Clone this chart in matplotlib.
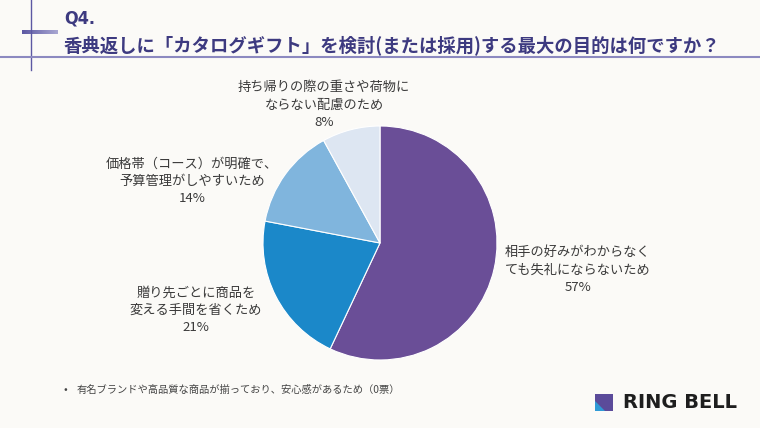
import matplotlib
matplotlib.use("Agg")
import matplotlib.pyplot as plt
import numpy as np
from matplotlib.patches import Polygon, Rectangle
from matplotlib.colors import LinearSegmentedColormap

plt.rcParams['font.family'] = ['Noto Sans CJK JP', 'DejaVu Sans']

# ---- data ----
categories = [
    "相手の好みがわからなく\nても失礼にならないため",
    "贈り先ごとに商品を\n変える手間を省くため",
    "価格帯（コース）が明確で、\n予算管理がしやすいため",
    "持ち帰りの際の重さや荷物に\nならない配慮のため",
]
values = [57, 21, 14, 8]
colors = ["#6A4E97", "#1B88C9", "#80B5DD", "#DDE6F2"]
title_q = "Q4."
title_main = "香典返しに「カタログギフト」を検討(または採用)する最大の目的は何ですか？"
footnote = "有名ブランドや高品質な商品が揃っており、安心感があるため（0票）"
brand = "RING BELL"

W, H = 760, 428
BG = "#FBFAF7"
fig = plt.figure(figsize=(W / 100, H / 100), dpi=100, facecolor=BG)

# ---- pie ----
cx, cy, r = 380, 243, 117
pax = fig.add_axes([(cx - r) / W, (H - cy - r) / H, 2 * r / W, 2 * r / H])
pax.pie(values, colors=colors, startangle=90, counterclock=False,
        wedgeprops=dict(edgecolor="white", linewidth=0.8))
pax.set_xlim(-1, 1)
pax.set_ylim(-1, 1)
pax.set_aspect("auto")
pax.axis("off")

# overlay axes in pixel coordinates (on top)
bg = fig.add_axes([0, 0, 1, 1])
bg.axis("off")
bg.patch.set_alpha(0)

line_c = "#5C58A3"
title_c = "#3D3A80"
# decorative lines
bg.plot([31, 31], [0, 70], color=line_c, lw=1.0)
bg.plot([0, W], [57, 57], color="#8C89C0", lw=1.5)
grad = np.linspace(0, 1, 64).reshape(1, -1)
cm = LinearSegmentedColormap.from_list("g", ["#5C58A3", "#A9A7D2"])
bg.imshow(grad, cmap=cm, extent=(22, 58, 34, 30), aspect="auto", zorder=1)
bg.set_xlim(0, W)
bg.set_ylim(H, 0)

bg.text(64, 18, title_q, fontsize=13, fontweight="bold", color=title_c,
        va="center", ha="left", family=["DejaVu Sans"], stretch="condensed")
bg.text(64, 45, title_main, fontsize=13.2, fontweight="bold", color=title_c,
        va="center", ha="left")

# labels (pixel positions)
label_pos = [(578, 270), (196, 310), (192, 181), (324, 105)]
lab_c = "#3A3A3A"
for cat, v, (x, y) in zip(categories, values, label_pos):
    bg.text(x, y, f"{cat}\n{v}%", fontsize=9.5, color=lab_c, ha="center",
            va="center", linespacing=1.42)

# footnote
bg.text(65, 390, "•", fontsize=8, color="#444444", ha="center", va="center")
bg.text(77, 390, footnote, fontsize=7.4, color="#444444", ha="left", va="center")

# logo
bg.add_patch(Rectangle((595, 394), 18, 17, color="#5B4B9A", lw=0))
bg.add_patch(Polygon([(595, 401), (595, 411), (605, 411)], closed=True,
                     color="#2F9AD6", lw=0))
bg.text(623, 402.5, brand, fontsize=14, fontweight="bold", color="#1E1E1E",
        ha="left", va="center", family=["DejaVu Sans"])

fig.savefig("out.png", dpi=100, facecolor=BG)
